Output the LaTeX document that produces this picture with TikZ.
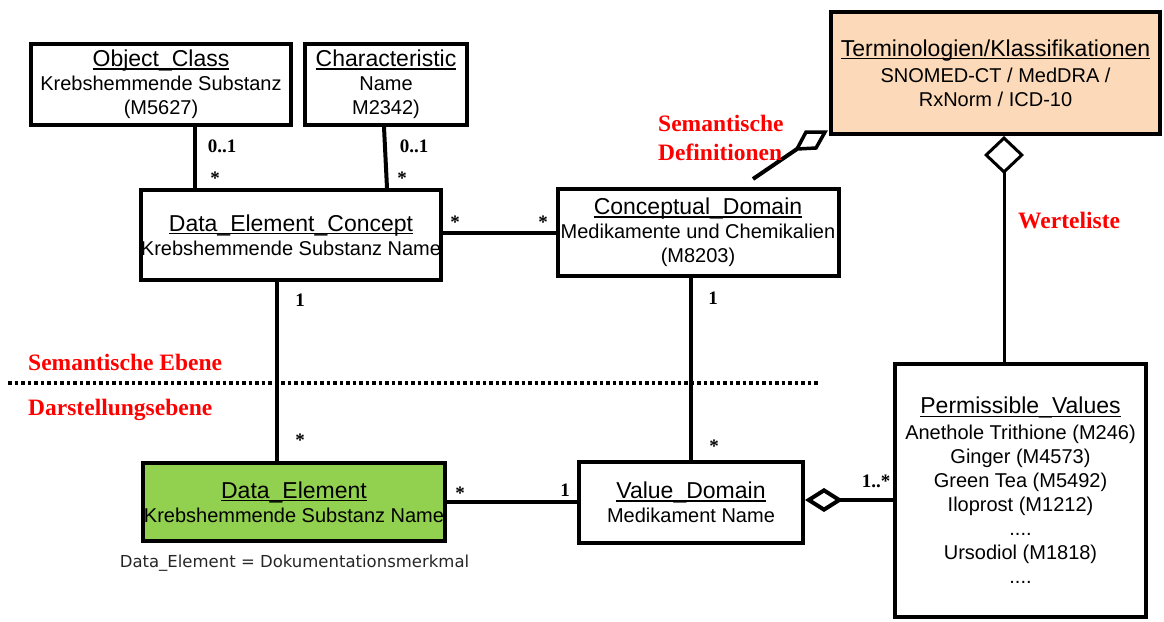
\documentclass[tikz,border=0pt]{standalone}
\usepackage{fontspec}
\setmainfont{Liberation Sans}
\newfontfamily\labelserif{Liberation Serif}
\newfontfamily\notefont{DejaVu Sans}
\usetikzlibrary{arrows.meta,calc}

\definecolor{deGreen}{RGB}{146,208,80}
\definecolor{termPeach}{RGB}{252,217,184}
\definecolor{labelRed}{RGB}{255,0,0}

% class name: larger size, thin underline just below the baseline
\newcommand{\ttl}[1]{{\fontsize{23}{24}\selectfont\setbox0\hbox{#1}\rlap{\rule[-3.2pt]{\wd0}{1.5pt}}\box0}}

\begin{document}
\begin{tikzpicture}[x=1pt,y=-1pt,
  umlbox/.style={draw, line width=4pt, inner sep=0pt, align=center,
                 font=\fontsize{20}{24}\selectfont},
  link/.style={line width=4pt},
  mult/.style={font=\labelserif\bfseries\fontsize{19}{19}\selectfont, inner sep=0pt},
  layer/.style={font=\labelserif\bfseries\fontsize{23.5}{29}\selectfont, text=labelRed,
                inner sep=0pt, anchor=west},
  sep/.style={line width=4pt, dash pattern=on 3.5pt off 3pt}]
\useasboundingbox (0,0) rectangle (1164,621);

% classes
\node[umlbox, minimum width=260, minimum height=81] (oc) at (161,84.5)
  {\ttl{Object\_Class}\\Krebshemmende Substanz\\(M5627)};
\node[umlbox, minimum width=162, minimum height=81] (ch) at (386,84.5)
  {\ttl{Characteristic}\\Name\\M2342)};
\node[umlbox, minimum width=298, minimum height=90] (dec) at (291,235)
  {\ttl{Data\_Element\_Concept}\\Krebshemmende Substanz Name};
\node[umlbox, minimum width=281, minimum height=87] (cd) at (698,232.5)
  {\ttl{Conceptual\_Domain}\\Medikamente und Chemikalien\\(M8203)};
\node[umlbox, fill=termPeach, minimum width=329, minimum height=122] (tk) at (995.5,73)
  {\ttl{Terminologien/Klassifikationen}\\[2pt]SNOMED-CT / MedDRA /\\RxNorm / ICD-10};
\node[umlbox, fill=deGreen, minimum width=302, minimum height=78] (de) at (294,502)
  {\ttl{Data\_Element}\\Krebshemmende Substanz Name};
\node[umlbox, minimum width=224, minimum height=81] (vd) at (691,502.5)
  {\ttl{Value\_Domain}\\Medikament Name};
\node[umlbox, minimum width=251, minimum height=253] (pv) at (1020.5,490.5)
  {\ttl{Permissible\_Values}\\[2pt]Anethole Trithione (M246)\\Ginger (M4573)\\Green Tea (M5492)\\Iloprost (M1212)\\....\\Ursodiol (M1818)\\....};

% associations
\draw[link] ([xshift=34]oc.south) -- ([xshift=-96]dec.north);
\draw[link] ([xshift=-2]ch.south) -- ([xshift=96]dec.north);
\draw[link] (dec.east |- cd.west) -- (cd.west);
\draw[link] ([xshift=-14]dec.south) -- ([xshift=-14]dec.south |- de.north);
\draw[link] (vd.north |- cd.south) -- (vd.north);
\draw[link] (de.east) -- (de.east -| vd.west);
\draw[link, {Diamond[open,length=38pt,width=24pt]}-] ([yshift=2.5]vd.east) -- ([yshift=2.5]vd.east -| pv.west);
\draw[line width=3pt, {Diamond[open,length=38pt,width=40pt]}-] ([xshift=8.5]tk.south) -- ([xshift=8.5]tk.south |- pv.north);

% semantic definition link with its sheared aggregation diamond
\draw[link] ($(cd.north)+(55,-8)$) -- ($(tk.south west)+(-32,13)$);
\draw[line width=3.5pt, fill=white, line join=miter]
  ($(tk.south west)+(-32,13)$) -- ($(tk.south west)+(-13,12)$)
  -- ($(tk.south west)+(-4,-4)$) -- ($(tk.south west)+(-23,-4)$) -- cycle;

% multiplicities
\node[mult] (m1) at (222,146) {0..1};
\node[mult] (m2) at (215,178) {*};
\node[mult] (m3) at (414,146) {0..1};
\node[mult] (m4) at (402,178) {*};
\node[mult] (m5) at (455,222) {*};
\node[mult] (m6) at (543,222) {*};
\node[mult] (m7) at (300,300) {1};
\node[mult] (m8) at (300,440) {*};
\node[mult] (m9) at (713,298) {1};
\node[mult] (m10) at (714,446) {*};
\node[mult] (m11) at (460,493) {*};
\node[mult] (m12) at (565,490) {1};
\node[mult] (m13) at (876,481) {1..*};

% layer separator and labels
\coordinate (sepL) at (8,383);
\coordinate (sepR) at (818,383);
\draw[sep] (sepL) -- (sepR);
\node[layer] (lsem) at (28,362) {Semantische Ebene};
\node[layer] (ldar) at (28,410) {Darstellungsebene};
\node[layer, align=left] (lsdef) at (658,137.5) {Semantische\\Definitionen};
\node[layer] (lwert) at (1018,221) {Werteliste};

% note
\node[font=\notefont\fontsize{16.5}{18}\selectfont, text=black!85, inner sep=0pt] (note) at (294.5,563)
  {Data\_Element = Dokumentationsmerkmal};
\end{tikzpicture}
\end{document}
